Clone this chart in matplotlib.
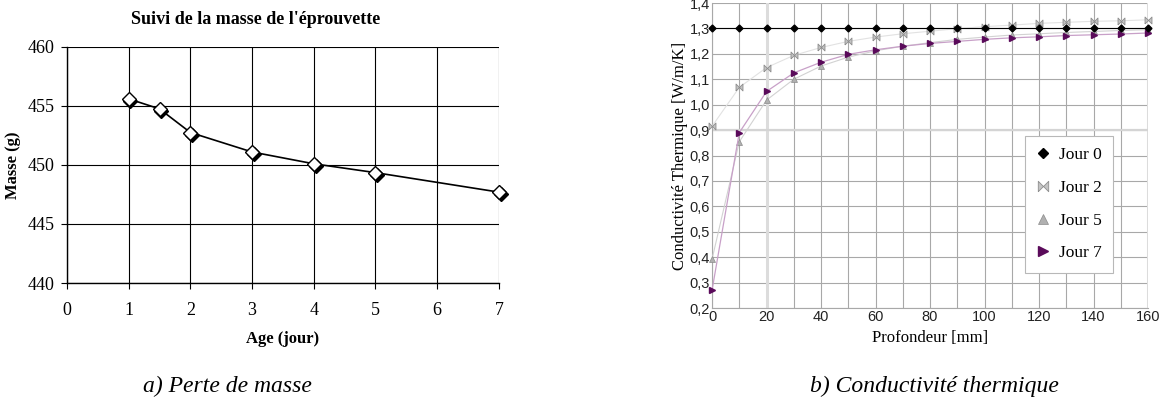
import matplotlib
matplotlib.use('Agg')
import matplotlib.pyplot as plt
from matplotlib.transforms import offset_copy
from matplotlib.ticker import FuncFormatter, MultipleLocator

# a) suivi de la masse
age = [1, 1.5, 2, 3, 4, 5, 7]
masse = [455.6, 454.75, 452.75, 451.1, 450.1, 449.35, 447.7]

# b) conductivite thermique
profondeur = [0, 10, 20, 30, 40, 50, 60, 70, 80, 90, 100, 110, 120, 130, 140, 150, 160]
jour0 = [1.30] * 17
jour2 = [0.915, 1.068, 1.146, 1.194, 1.225, 1.249, 1.266, 1.279, 1.289, 1.299,
         1.307, 1.313, 1.320, 1.324, 1.328, 1.330, 1.334]
jour5 = [0.392, 0.854, 1.018, 1.100, 1.152, 1.187, 1.212, 1.230, 1.244, 1.257,
         1.266, 1.274, 1.279, 1.284, 1.288, 1.292, 1.295]
jour7 = [0.270, 0.890, 1.052, 1.125, 1.167, 1.198, 1.216, 1.230, 1.241, 1.249,
         1.257, 1.263, 1.267, 1.272, 1.275, 1.278, 1.282]

serif = 'Liberation Serif'
sans = 'Liberation Sans'

fig = plt.figure(figsize=(11.61, 4.12), dpi=100)

# ---- left chart
ax1 = fig.add_axes([0.0577, 0.3131, 0.372, 0.573])
ax1.set_xlim(0, 7)
ax1.set_ylim(440, 460)
ax1.set_xticks(range(0, 8))
ax1.set_yticks(range(440, 461, 5))
ax1.grid(True, color='black', linewidth=0.8)
ax1.set_axisbelow(True)
for s in ['top', 'right']:
    ax1.spines[s].set_visible(False)
ax1.spines['left'].set_linewidth(1.0)
ax1.spines['bottom'].set_linewidth(1.0)
ax1.tick_params(direction='out', length=4, width=0.8, labelsize=13, pad=5)
ax1.tick_params(axis='x', pad=10)
for lab in ax1.get_xticklabels() + ax1.get_yticklabels():
    lab.set_fontfamily(serif)
ax1.plot(age, masse, color='black', linewidth=1.2, zorder=3)
shadow = offset_copy(ax1.transData, fig=fig, x=1.3, y=-1.6, units='points')
ax1.plot(age, masse, linestyle='none', marker='D', markersize=7.5, clip_on=False,
         markerfacecolor='black', markeredgecolor='black', transform=shadow, zorder=4)
ax1.plot(age, masse, linestyle='none', marker='D', markersize=7.5, clip_on=False,
         markerfacecolor='white', markeredgecolor='black', markeredgewidth=1.0, zorder=5)
fig.text(0.2205, 0.953, "Suivi de la masse de l'éprouvette", fontfamily=serif,
         fontweight='bold', fontsize=13, ha='center', va='center')
ax1.set_xlabel('Age (jour)', fontfamily=serif, fontweight='bold', fontsize=12, labelpad=8)
ax1.set_ylabel('Masse (g)', fontfamily=serif, fontweight='bold', fontsize=12, labelpad=5)

# ---- right chart
ax2 = fig.add_axes([0.6133, 0.2524, 0.3755, 0.7403])
ax2.set_xlim(0, 160)
ax2.set_ylim(0.2, 1.4)
ax2.xaxis.set_major_locator(MultipleLocator(20))
ax2.xaxis.set_minor_locator(MultipleLocator(10))
ax2.yaxis.set_major_locator(MultipleLocator(0.1))
ax2.grid(True, which='both', axis='x', color='#a8a8a8', linewidth=0.8)
ax2.grid(True, which='major', axis='y', color='#a8a8a8', linewidth=0.8)
ax2.axvline(20, color='#dcdcdc', linewidth=2.2, zorder=0.6)
ax2.axvline(160, color='#dcdcdc', linewidth=2.2, zorder=0.6)
ax2.axhline(0.9, color='#d4d4d4', linewidth=1.6, zorder=0.6)
ax2.set_axisbelow(True)
for s in ['top', 'right']:
    ax2.spines[s].set_visible(False)
for s in ['left', 'bottom']:
    ax2.spines[s].set_color('#a8a8a8')
    ax2.spines[s].set_linewidth(0.8)
ax2.tick_params(which='both', length=0, labelsize=10.5, pad=1.5, labelcolor='#222222')
ax2.yaxis.set_major_formatter(FuncFormatter(lambda v, p: f"{v:.1f}".replace('.', ',')))
for lab in ax2.get_xticklabels() + ax2.get_yticklabels():
    lab.set_fontfamily(sans)

bowtie = [(-1, -1), (-1, 1), (0, 0), (1, 1), (1, -1), (0, 0), (-1, -1)]
ax2.plot(profondeur, jour0, color='black', linewidth=0.8, marker='D', markersize=3.5,
         markerfacecolor='black', markeredgecolor='black', label='Jour 0', zorder=6,
         clip_on=False)
ax2.plot(profondeur, jour2, color='#e2e2e2', linewidth=0.8, marker=bowtie, markersize=5,
         markerfacecolor='#c4c4c4', markeredgecolor='#8c8c8c', markeredgewidth=0.6,
         label='Jour 2', zorder=4, clip_on=False)
ax2.plot(profondeur, jour5, color='#d2d2d2', linewidth=0.8, marker='^', markersize=5,
         markerfacecolor='#b0b0b0', markeredgecolor='#8c8c8c', markeredgewidth=0.5,
         label='Jour 5', zorder=4, clip_on=False)
ax2.plot(profondeur, jour7, color='#c8a0c8', linewidth=0.9, marker='>', markersize=5,
         markerfacecolor='#5a0a5a', markeredgecolor='#5a0a5a', label='Jour 7', zorder=5,
         clip_on=False)

leg = ax2.legend(loc='upper left', bbox_to_anchor=(0.718, 0.564), borderaxespad=0,
                 frameon=True, fancybox=False, edgecolor='#b8b8b8', framealpha=1,
                 handlelength=0.8, handletextpad=0.5, labelspacing=0.95, borderpad=0.65,
                 markerscale=1.5, prop={'family': serif, 'size': 12.5})
leg.get_frame().set_linewidth(0.8)
leg.set_zorder(10)
for h in leg.get_lines():
    h.set_linestyle('none')

ax2.set_xlabel('Profondeur [mm]', fontfamily=serif, fontsize=12, labelpad=4)
ax2.set_ylabel('Conductivité Thermique [W/m/K]', fontfamily=serif, fontsize=12, labelpad=1)

# captions
fig.text(0.196, 0.063, 'a) Perte de masse', fontfamily=serif, fontstyle='italic',
         fontsize=17, ha='center', va='center')
fig.text(0.805, 0.063, 'b) Conductivité thermique', fontfamily=serif, fontstyle='italic',
         fontsize=17, ha='center', va='center')

fig.savefig('out.png', dpi=100)
